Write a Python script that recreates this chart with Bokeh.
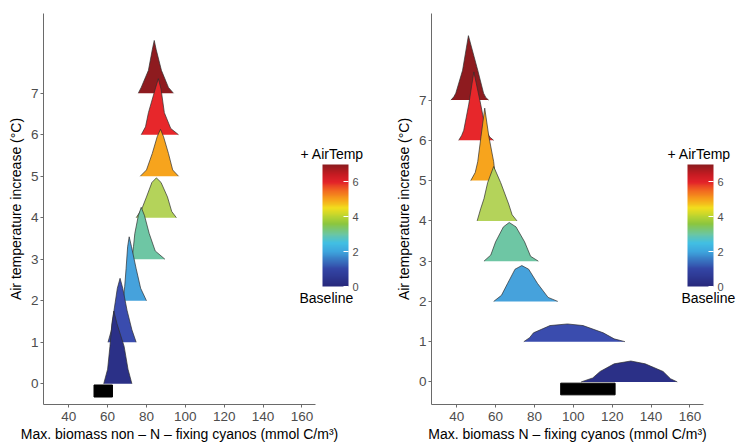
import numpy as np
from bokeh.plotting import figure
from bokeh.models import ColumnDataSource, ColorBar, LinearColorMapper, FixedTicker, Range1d
from bokeh.layouts import row
from bokeh.embed import file_html
from bokeh.resources import INLINE

# ---------------- data ----------------
levels = [0, 1, 2, 3, 4, 5, 6, 7]
x_ticks = [40, 60, 80, 100, 120, 140, 160]
y_ticks = [0, 1, 2, 3, 4, 5, 6, 7]
cbar_ticks = [0, 2, 4, 6]

# non-N-fixing cyanos: density outline per warming level (x value, ridge height)
nonfix_x = [
    [58.0, 60.0, 61.2, 62.2, 63.2, 64.8, 68.5, 70.5, 72.5],
    [60.2, 62.0, 63.3, 65.0, 66.4, 67.8, 70.0, 72.5, 74.7],
    [68.0, 68.8, 69.5, 70.3, 71.1, 72.3, 74.7, 77.0, 80.0],
    [72.5, 73.3, 74.0, 75.8, 77.3, 79.0, 81.4, 84.5, 89.5],
    [74.7, 77.5, 80.0, 82.8, 85.1, 87.5, 90.8, 93.0, 95.4],
    [76.8, 80.0, 83.0, 85.5, 87.2, 88.8, 91.3, 93.5, 96.5],
    [77.3, 79.5, 81.0, 84.5, 86.1, 87.5, 89.2, 92.5, 96.5],
    [75.8, 77.3, 81.0, 83.0, 84.0, 85.0, 87.7, 91.3, 93.9],
]
nonfix_h = [
    [0.0, 0.35, 0.90, 1.45, 1.75, 1.45, 0.90, 0.35, 0.0],
    [0.0, 0.30, 0.77, 1.30, 1.54, 1.30, 0.77, 0.30, 0.0],
    [0.0, 0.35, 0.77, 1.30, 1.54, 1.30, 0.77, 0.30, 0.0],
    [0.0, 0.30, 0.62, 1.05, 1.25, 1.05, 0.62, 0.20, 0.0],
    [0.0, 0.20, 0.50, 0.85, 0.96, 0.85, 0.50, 0.15, 0.0],
    [0.0, 0.15, 0.55, 0.95, 1.13, 0.95, 0.55, 0.15, 0.0],
    [0.0, 0.19, 0.53, 1.10, 1.35, 1.10, 0.53, 0.15, 0.0],
    [0.0, 0.14, 0.55, 1.05, 1.27, 1.05, 0.55, 0.14, 0.0],
]
# N-fixing cyanos
nfix_x = [
    [104.0, 110.0, 113.8, 121.0, 129.6, 137.0, 146.2, 150.0, 153.5],
    [74.5, 77.5, 79.5, 88.0, 97.0, 105.0, 115.4, 121.0, 126.6],
    [59.0, 63.0, 66.2, 70.0, 73.5, 77.0, 81.5, 87.0, 92.0],
    [54.0, 57.5, 60.0, 64.0, 67.0, 70.5, 74.9, 78.0, 82.0],
    [50.5, 52.3, 54.0, 55.9, 59.0, 62.6, 66.7, 68.5, 71.0],
    [47.2, 49.5, 50.8, 52.5, 54.4, 56.5, 59.0, 59.6, 60.3],
    [41.0, 42.5, 43.6, 46.2, 48.8, 52.3, 54.9, 57.0, 59.0],
    [37.0, 38.5, 39.5, 43.0, 46.0, 50.8, 53.8, 55.0, 56.4],
]
nfix_h = [
    [0.0, 0.10, 0.26, 0.45, 0.52, 0.45, 0.26, 0.08, 0.0],
    [0.0, 0.10, 0.22, 0.40, 0.44, 0.40, 0.22, 0.07, 0.0],
    [0.0, 0.15, 0.45, 0.80, 0.89, 0.80, 0.45, 0.10, 0.0],
    [0.0, 0.15, 0.48, 0.85, 0.96, 0.85, 0.48, 0.12, 0.0],
    [0.0, 0.30, 0.55, 0.95, 1.35, 0.95, 0.42, 0.15, 0.0],
    [0.0, 0.20, 0.47, 1.10, 1.80, 1.10, 0.47, 0.20, 0.0],
    [0.0, 0.12, 0.25, 0.90, 1.70, 0.90, 0.25, 0.08, 0.0],
    [0.0, 0.08, 0.17, 0.74, 1.60, 0.74, 0.17, 0.06, 0.0],
]
# observed ranges (black bars)
nonfix_obs = [53.0, 62.5]
nfix_obs = [93.5, 121.5]

nonfix_label = "Max. biomass non \u2013 N \u2013 fixing cyanos (mmol C/m\u00b3)"
nfix_label = "Max. biomass N \u2013 fixing cyanos (mmol C/m\u00b3)"
y_label = "Air temperature increase (\u00b0C)"
legend_title = "+ AirTemp"
legend_bottom = "Baseline"

# ---------------- style ----------------
level_colors = ["#2b3087", "#3a4cae", "#46a2dc", "#6ec6a4",
                "#b4d35a", "#f7a41d", "#e7272b", "#8e1b1f"]
anchor_vals = [0, 1, 2, 2.5, 3, 3.6, 4, 4.5, 5, 5.5, 6, 6.5, 7]
anchor_cols = ["#28297c", "#3446a6", "#3ea6de", "#42c0e4", "#6cc7a3", "#8cc63f",
               "#b8d432", "#f2df1e", "#f7a21b", "#f26a21", "#e3232a", "#c11b22", "#8a1b1e"]


def hex2rgb(h):
    return [int(h[i:i + 2], 16) for i in (1, 3, 5)]


rgb = np.array([hex2rgb(c) for c in anchor_cols], dtype=float)
pal = []
for g in np.linspace(0, 7, 256):
    r = np.interp(g, anchor_vals, rgb[:, 0])
    gg = np.interp(g, anchor_vals, rgb[:, 1])
    b = np.interp(g, anchor_vals, rgb[:, 2])
    pal.append("#%02x%02x%02x" % (int(r), int(gg), int(b)))

FONT = "Liberation Sans"
H = 444


def text_box(mapper, text, x, y):
    # invisible colour bar used only to carry a legend text outside the frame
    return ColorBar(color_mapper=mapper, ticker=FixedTicker(ticks=[]), location=(x, y),
                    orientation="horizontal", width=2, height=2, padding=0, scale_alpha=0,
                    title=text, title_text_font=FONT, title_text_font_size="14px",
                    title_text_font_style="normal", title_text_color="black",
                    title_standoff=0, background_fill_alpha=0,
                    border_line_color=None, bar_line_color=None,
                    major_tick_line_color=None, minor_tick_line_color=None)


def make_panel(xs_list, hs_list, obs, xlabel, width, bl, br, yr, leg):
    p = figure(width=width, height=H, x_range=Range1d(27, 167), y_range=Range1d(*yr),
               output_backend="svg", toolbar_location=None,
               min_border_left=bl, min_border_right=br, min_border_top=13, min_border_bottom=39)
    p.outline_line_color = None
    p.xgrid.visible = False
    p.ygrid.visible = False
    p.background_fill_color = "white"

    for i in reversed(range(len(levels))):
        lev = levels[i]
        xs = xs_list[i]
        tops = [lev + h for h in hs_list[i]]
        src = ColumnDataSource(dict(x=xs, base=[lev] * len(xs), top=tops))
        p.varea(x="x", y1="base", y2="top", source=src, fill_color=level_colors[i])
        p.line(x="x", y="top", source=src, line_color="#2e2e2e", line_width=0.7)

    p.quad(left=[obs[0]], right=[obs[1]], bottom=[-0.32], top=[-0.03],
           fill_color="black", line_color="black")

    for ax in (p.xaxis, p.yaxis):
        ax.axis_line_color = "#6a6a6a"
        ax.major_tick_line_color = "#6a6a6a"
        ax.major_tick_out = 3
        ax.major_tick_in = 0
        ax.minor_tick_line_color = None
        ax.major_label_text_font = FONT
        ax.major_label_text_font_size = "13.5px"
        ax.major_label_text_color = "#4d4d4d"
        ax.axis_label_text_font = FONT
        ax.axis_label_text_font_style = "normal"
        ax.axis_label_text_color = "black"
    p.xaxis.ticker = FixedTicker(ticks=x_ticks)
    p.yaxis.ticker = FixedTicker(ticks=y_ticks)
    p.xaxis.major_label_standoff = 4
    p.yaxis.major_label_standoff = 2
    p.xaxis.axis_label = xlabel
    p.xaxis.axis_label_text_font_size = "14px"
    p.xaxis.axis_label_standoff = 2
    p.yaxis.axis_label = y_label
    p.yaxis.axis_label_text_font_size = "14px"
    p.yaxis.axis_label_standoff = 4

    mapper = LinearColorMapper(palette=pal, low=0, high=7)
    cb = ColorBar(color_mapper=mapper, ticker=FixedTicker(ticks=cbar_ticks),
                  location=(leg["bar_x"], leg["bar_y"]), width=26, height=122,
                  padding=0, label_standoff=4,
                  major_label_text_font=FONT, major_label_text_font_size="11px",
                  major_label_text_color="#4d4d4d",
                  major_tick_line_color="white", major_tick_in=5, major_tick_out=0,
                  background_fill_alpha=0, border_line_color=None, bar_line_color=None)
    p.add_layout(cb, "center")
    p.add_layout(text_box(mapper, legend_title, leg["title_x"], leg["title_y"]), "center")
    p.add_layout(text_box(mapper, legend_bottom, leg["base_x"], leg["base_y"]), "center")
    return p


p1 = make_panel(nonfix_x, nonfix_h, nonfix_obs, nonfix_label, 370, 43, 55, (-0.5, 8.92),
                dict(bar_x=279, bar_y=118, title_x=257, title_y=241, base_x=256, base_y=97))
p2 = make_panel(nfix_x, nfix_h, nfix_obs, nfix_label, 371, 61, 38, (-0.56, 9.15),
                dict(bar_x=256, bar_y=118, title_x=236, title_y=241, base_x=250, base_y=97))

layout = row(p1, p2)
open("out.html", "w").write(file_html(layout, INLINE))
